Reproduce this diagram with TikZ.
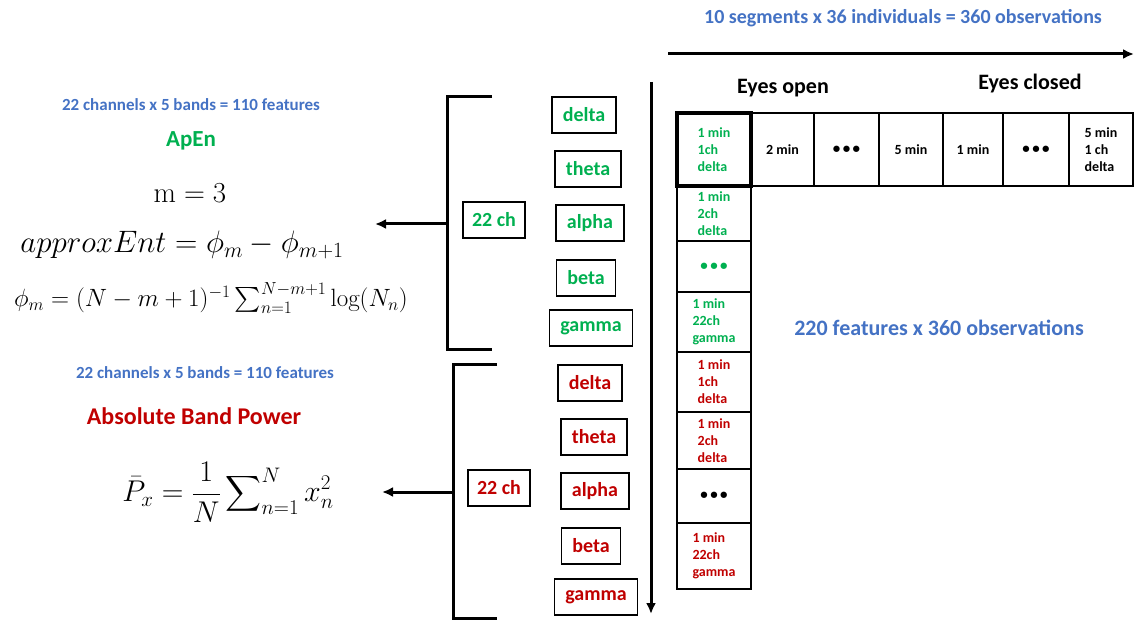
\documentclass[tikz,border=0pt]{standalone}
\usepackage{fix-cm}
\usepackage{amsmath}
\usepackage{fontspec}
\newfontfamily\calib{Carlito}
\usetikzlibrary{arrows.meta, positioning, calc}
\definecolor{featblue}{HTML}{4472C4}
\definecolor{apgreen}{HTML}{00B050}
\definecolor{bpred}{HTML}{C00000}
\newcommand{\segdots}{{\fontsize{15}{15}\selectfont\textbullet\,\textbullet\,\textbullet}}

\begin{document}
\begin{tikzpicture}[x=1pt, y=-1pt,
    bluetxt/.style={text=featblue, font=\calib\bfseries\fontsize{17}{20}\selectfont},
    band/.style={draw, rectangle, line width=1.4pt, minimum height=36pt, inner xsep=11pt, font=\calib\bfseries\fontsize{20}{24}\selectfont},
    chbox/.style={band, inner xsep=9pt},
    cell/.style={draw, rectangle, line width=2.6pt, inner sep=0pt, align=left, font=\calib\bfseries\fontsize{14}{17}\selectfont},
    bracket/.style={line width=3pt},
    bigarrow/.style={line width=3pt, -{Latex[length=11pt, width=10pt]}}]
    \useasboundingbox (0,0) rectangle (1134,620);

    % Draw the ApEn part
    \node[bluetxt] (apfeat) at (191,105) {22 channels x 5 bands = 110 features};
    \node[text=apgreen, font=\calib\bfseries\fontsize{23}{26}\selectfont] (apen) at (191,141) {ApEn};
    \node[font=\fontsize{29}{32}\selectfont] (meq) at (190,193) {$\mathrm{m}=3$};
    \node[font=\fontsize{31}{34}\selectfont] (apx) at (182,245) {$approxEnt=\phi_m-\phi_{m+1}$};
    \node[font=\fontsize{25}{28}\selectfont] (phim) at (211,298) {$\phi_m=(N-m+1)^{-1}\textstyle\sum_{n=1}^{N-m+1}\log(N_n)$};

    % Draw the band power part
    \node[bluetxt] (bpfeat) at (205,373) {22 channels x 5 bands = 110 features};
    \node[text=bpred, font=\calib\bfseries\fontsize{24}{28}\selectfont] (abp) at (194,416) {Absolute Band Power};
    \node[font=\fontsize{30}{34}\selectfont, inner sep=0pt] (pbar) at (228,492) {$\displaystyle\bar{P}_x=\frac{1}{N}\sum\nolimits_{n=1}^{N}x_n^2$};

    % Draw the upper bracket
    \coordinate (ubT) at (492,97);
    \coordinate (ubTL) at (447,97);
    \coordinate (ubBL) at (447,349);
    \coordinate (ubB) at (492,349);
    \coordinate (ubM) at (447,224);
    \coordinate (apTip) at (375,224);
    \draw[bracket] (ubT) -- (ubTL) -- (ubBL) -- (ubB);
    \draw[bigarrow] (ubM) -- (apTip);

    % Draw the lower bracket
    \coordinate (lbT) at (497,364);
    \coordinate (lbTL) at (453,364);
    \coordinate (lbBL) at (453,618);
    \coordinate (lbB) at (497,618);
    \coordinate (lbM) at (453,492);
    \coordinate (bpTip) at (382,492);
    \draw[bracket] (lbT) -- (lbTL) -- (lbBL) -- (lbB);
    \draw[bigarrow] (lbM) -- (bpTip);

    % Draw the channel and band boxes
    \node[chbox, text=apgreen] (apch) at (494,220) {22 ch};
    \node[band, text=apgreen] (apdelta) at (584,115) {delta};
    \node[band, text=apgreen] (aptheta) at (588,169) {theta};
    \node[band, text=apgreen] (apalpha) at (590,223) {alpha};
    \node[band, text=apgreen] (apbeta) at (586,278) {beta};
    \node[band, text=apgreen] (apgamma) at (591,328) {gamma};

    \node[chbox, text=bpred] (bpch) at (499,488) {22 ch};
    \node[band, text=bpred] (bpdelta) at (590,383) {delta};
    \node[band, text=bpred] (bptheta) at (594,437) {theta};
    \node[band, text=bpred] (bpalpha) at (595,491) {alpha};
    \node[band, text=bpred] (bpbeta) at (591,546) {beta};
    \node[band, text=bpred] (bpgamma) at (596,597) {gamma};

    % Draw the axis arrows
    \coordinate (segT) at (651,82);
    \coordinate (segB) at (651,614);
    \draw[bigarrow] (segT) -- (segB);
    \node[text=featblue, font=\calib\bfseries\fontsize{20}{24}\selectfont] (obs) at (903,18) {10 segments x 36 individuals = 360 observations};
    \coordinate (obsL) at (668,54);
    \coordinate (obsR) at (1134,54);
    \draw[bigarrow] (obsL) -- (obsR);

    \node[font=\calib\bfseries\fontsize{22}{26}\selectfont] (open) at (783,88) {Eyes open};
    \node[font=\calib\bfseries\fontsize{22}{26}\selectfont] (closed) at (1030,84) {Eyes closed};

    % Draw the row of segments
    \node[cell, minimum width=63pt, minimum height=73pt] (r2) at (782.5,149.5) {2 min};
    \node[cell, minimum width=65pt, minimum height=73pt] (r3) at (846.5,149.5) {\segdots};
    \node[cell, minimum width=64pt, minimum height=73pt] (r4) at (911,149.5) {5 min};
    \node[cell, minimum width=60pt, minimum height=73pt] (r5) at (973,149.5) {1 min};
    \node[cell, minimum width=66pt, minimum height=73pt] (r6) at (1036,149.5) {\segdots};
    \node[cell, minimum width=64pt, minimum height=73pt] (r7) at (1101,149.5) {5 min\\1 ch\\delta};

    % Draw the column of features
    \node[cell, text=apgreen, minimum width=74pt, minimum height=55pt] (c2) at (714,213.5) {1 min\\2ch\\delta};
    \node[cell, text=apgreen, minimum width=74pt, minimum height=51pt] (c3) at (714,266.5) {\segdots};
    \node[cell, text=apgreen, minimum width=74pt, minimum height=60pt] (c4) at (714,322) {1 min\\22ch\\gamma};
    \node[cell, text=bpred, minimum width=74pt, minimum height=60pt] (c5) at (714,382) {1 min\\1ch\\delta};
    \node[cell, text=bpred, minimum width=74pt, minimum height=57pt] (c6) at (714,440.5) {1 min\\2ch\\delta};
    \node[cell, minimum width=74pt, minimum height=54pt] (c7) at (714,496) {\segdots};
    \node[cell, text=bpred, minimum width=74pt, minimum height=66pt] (c8) at (714,556) {1 min\\22ch\\gamma};

    \node[cell, line width=4pt, text=apgreen, minimum width=74pt, minimum height=73pt] (r1) at (714,149.5) {1 min\\1ch\\delta};

    \node[text=featblue, font=\calib\bfseries\fontsize{22}{26}\selectfont] (total) at (939,328) {220 features x 360 observations};
\end{tikzpicture}
\end{document}
